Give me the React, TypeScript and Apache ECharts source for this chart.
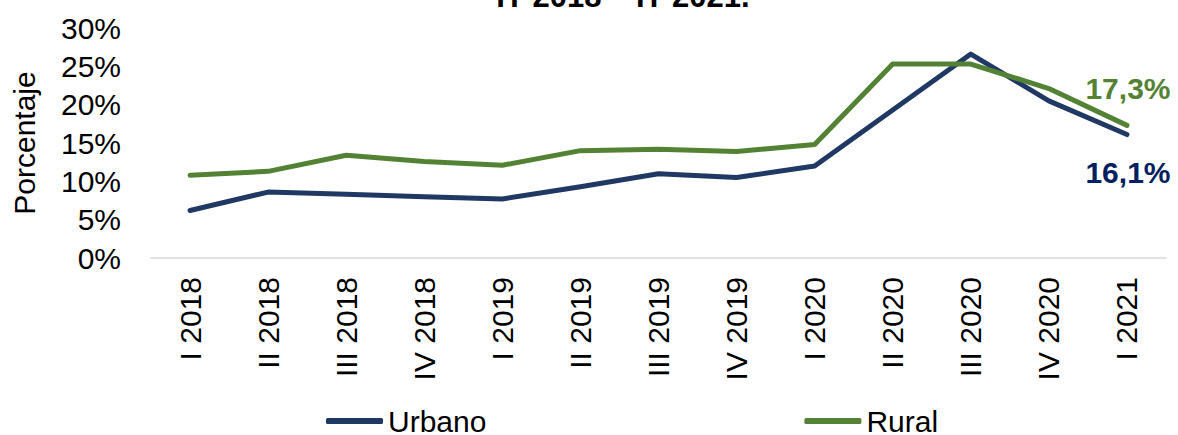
import React, { useEffect, useRef } from "react";
import * as echarts from "echarts";

const categories = ["I 2018", "II 2018", "III 2018", "IV 2018", "I 2019", "II 2019", "III 2019", "IV 2019", "I 2020", "II 2020", "III 2020", "IV 2020", "I 2021"];
const urbano = [6.2, 8.6, 8.3, 8.0, 7.7, 9.3, 11.0, 10.5, 12.0, 19.3, 26.6, 20.5, 16.1];
const rural = [10.8, 11.3, 13.4, 12.6, 12.1, 14.0, 14.2, 13.9, 14.8, 25.3, 25.3, 22.1, 17.3];
const yTicks = [0, 5, 10, 15, 20, 25, 30];
const titleText = "IT 2018 – IT 2021.";

const NAVY = "#203864";
const NAVY_LABEL = "#002060";
const GREEN = "#548235";
const FONT = "Liberation Sans, Arial, sans-serif";

const pct = (v: number) => v.toFixed(1).replace(".", ",") + "%";

export default function App() {
  const ref = useRef<HTMLDivElement>(null);
  useEffect(() => {
    if (!ref.current) return;
    const chart = echarts.init(ref.current, null, { renderer: "svg" });
    chart.setOption({
      animation: false,
      textStyle: { fontFamily: FONT },
      legend: {
        top: 401,
        left: 321,
        itemGap: 318,
        itemWidth: 57,
        itemHeight: 6,
        icon: "roundRect",
        textStyle: { fontSize: 30, lineHeight: 30, color: "#000", fontFamily: FONT },
        data: ["Urbano", "Rural"],
      },
      grid: { left: 151, right: 12, top: 28, bottom: 177 },
      xAxis: {
        type: "category",
        data: categories,
        boundaryGap: true,
        axisLine: { lineStyle: { color: "#d9d9d9", width: 1.5 } },
        axisTick: { show: false },
        axisLabel: { rotate: 90, fontSize: 30, color: "#000", fontFamily: FONT, margin: 19, interval: 0 },
      },
      yAxis: {
        type: "value",
        min: 0,
        max: 30,
        interval: 5,
        name: "Porcentaje",
        nameLocation: "middle",
        nameRotate: 90,
        nameGap: 112,
        nameTextStyle: { fontSize: 30, color: "#000", fontFamily: FONT },
        splitLine: { show: false },
        axisLine: { show: false },
        axisTick: { show: false },
        axisLabel: {
          fontSize: 30,
          color: "#000",
          fontFamily: FONT,
          margin: 30,
          formatter: (v: number) => (yTicks.includes(v) ? v + "%" : ""),
        },
      },
      series: [
        {
          name: "Urbano",
          type: "line",
          data: urbano,
          symbol: "none",
          lineStyle: { color: NAVY, width: 5, cap: "round", join: "round" },
          itemStyle: { color: NAVY },
        },
        {
          name: "Rural",
          type: "line",
          data: rural,
          symbol: "none",
          lineStyle: { color: GREEN, width: 5, cap: "round", join: "round" },
          itemStyle: { color: GREEN },
        },
      ],
    });
    const last = categories.length - 1;
    const pU = chart.convertToPixel({ gridIndex: 0 }, [last, urbano[last]]) as number[];
    const pR = chart.convertToPixel({ gridIndex: 0 }, [last, rural[last]]) as number[];
    chart.setOption({
      graphic: [
        {
          type: "text",
          x: 623,
          y: -19,
          style: { text: titleText, font: `bold 31px ${FONT}`, fill: "#000", align: "center", verticalAlign: "top" },
        },
        {
          type: "text",
          x: pR[0] + 1,
          y: pR[1] - 37,
          style: { text: pct(rural[last]), font: `bold 30px ${FONT}`, fill: GREEN, align: "center", verticalAlign: "middle" },
        },
        {
          type: "text",
          x: pU[0] + 1,
          y: pU[1] + 38,
          style: { text: pct(urbano[last]), font: `bold 30px ${FONT}`, fill: NAVY_LABEL, align: "center", verticalAlign: "middle" },
        },
      ],
    });
    return () => chart.dispose();
  }, []);
  return <div ref={ref} style={{ position: "absolute", left: 0, top: 0, width: 1178, height: 435 }} />;
}
